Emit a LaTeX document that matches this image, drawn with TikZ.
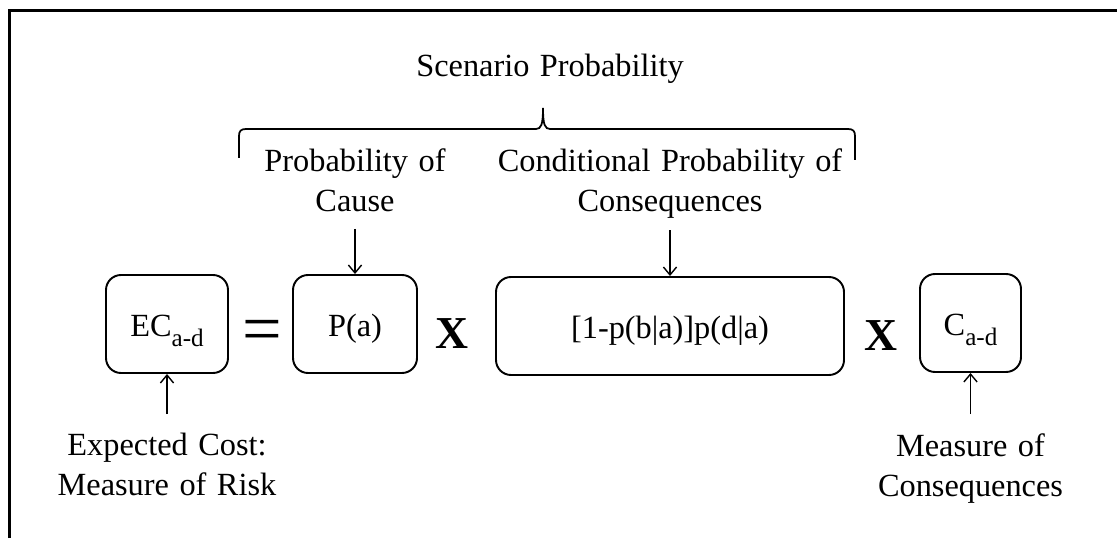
\documentclass[tikz,border=0pt]{standalone}
\usepackage{fontspec}
\setmainfont{Liberation Serif}[WordSpace=1.3]
\usepackage{tikz}
\usetikzlibrary{arrows.meta}

\newcommand{\subtxt}[1]{\raisebox{-5.7pt}{\fontsize{14.3}{14.3}\selectfont #1}}

\begin{document}
\begin{tikzpicture}[x=1cm,y=1cm, every node/.style={font=\fontsize{18.4}{22.8}\selectfont},
  termbox/.style={draw, rounded corners=0.3cm, line width=1.1pt, minimum height=1.96cm, inner sep=0pt,
    text height=0.5cm, text depth=0.02cm},
  note/.style={align=center, inner sep=0pt},
  timesop/.style={font=\fontsize{26}{26}\selectfont\bfseries, inner sep=0pt},
  arr/.style={-{Straight Barb[length=4.5pt,width=7.5pt]}, line width=0.8pt}]
  \useasboundingbox (0,0) rectangle (22.34,10.76);
  \draw[line width=1.7pt] (0.19,0) -- (0.19,10.55) -- (22.34,10.55);

  % terms of the product
  \node[termbox, minimum width=2.44cm] (ec) at (3.34,4.28) {EC\subtxt{a-d}};
  \node[font=\fontsize{40}{40}\selectfont, inner sep=0pt] (eq) at (5.24,4.04) {=};
  \node[termbox, minimum width=2.48cm] (pa) at (7.10,4.28) {P(a)};
  \node[timesop] (x1) at (9.04,4.08) {X};
  \node[termbox, minimum width=6.96cm] (cp) at (13.40,4.24) {[1-p(b|a)]p(d|a)};
  \node[timesop] (x2) at (17.62,4.04) {X};
  \node[termbox, minimum width=2.02cm] (cad) at (19.41,4.30) {C\subtxt{a-d}};

  % labels
  \node[note, anchor=base] (scen) at (11.0,9.22) {Scenario Probability};
  \node[note, anchor=north] (cause) at (7.10,7.80) {Probability of\\Cause};
  \node[note, anchor=north] (cons) at (13.40,7.80) {Conditional Probability of\\Consequences};
  \node[note, anchor=north] (cost) at (3.34,2.10) {Expected Cost:\\Measure of Risk};
  \node[note, anchor=north] (meas) at (19.41,2.10) {Measure of\\Consequences};

  % brace under the scenario label
  \draw[line width=1pt] (4.78,7.60) -- (4.78,8.04) .. controls (4.78,8.14) and (4.82,8.18) .. (4.92,8.18)
    -- (10.72,8.18) .. controls (10.82,8.18) and (10.86,8.26) .. (10.86,8.60)
    .. controls (10.86,8.26) and (10.90,8.18) .. (11.00,8.18)
    -- (16.96,8.18) .. controls (17.06,8.18) and (17.10,8.14) .. (17.10,8.04) -- (17.10,7.56);

  \draw[arr, shorten <=0.34cm] (cause) -- (pa);
  \draw[arr, shorten <=0.24cm] (cons) -- (cp);
  \draw[arr, shorten <=0.38cm] (cost) -- (ec);
  \draw[arr, shorten <=0.38cm] (meas) -- (cad);
\end{tikzpicture}
\end{document}
